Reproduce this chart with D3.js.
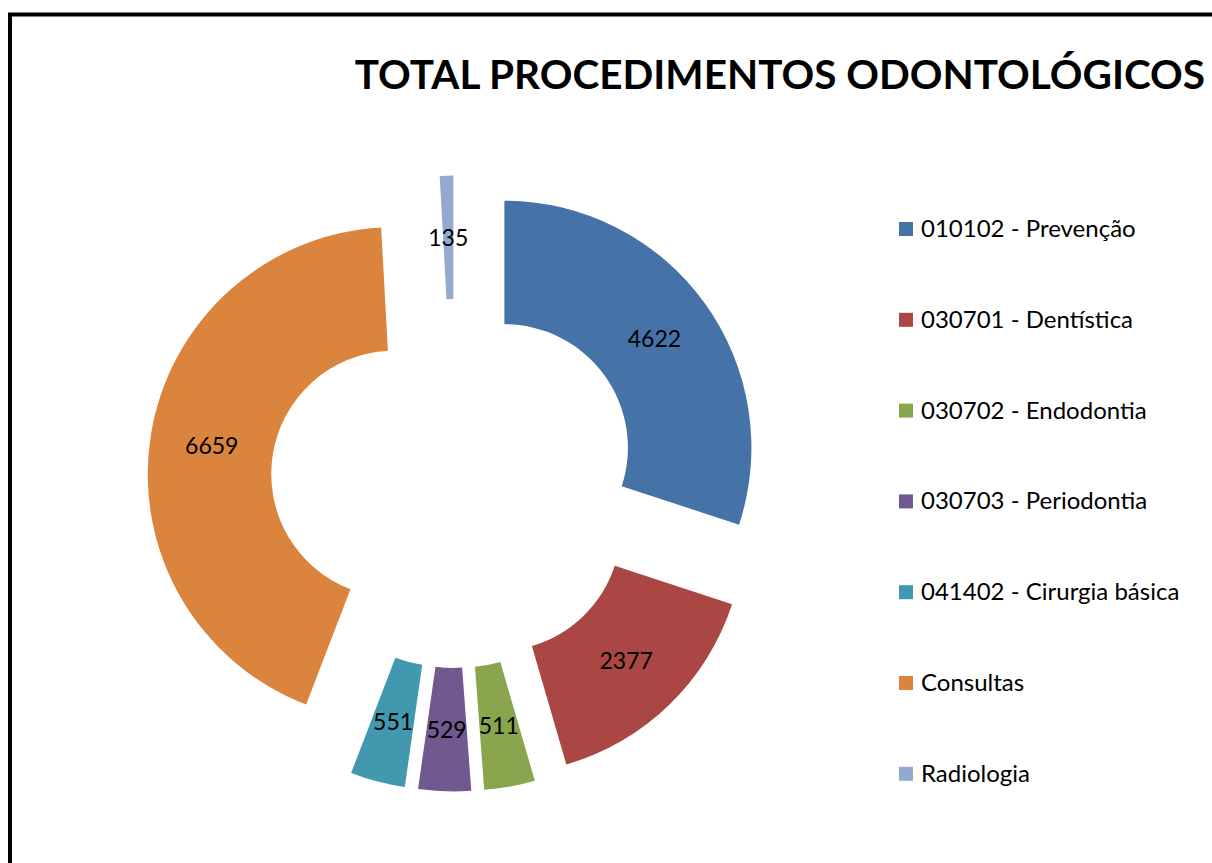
<!DOCTYPE html>
<html>
<head>
    <meta charset="utf-8">
    <title>Total Procedimentos Odontológicos</title>
    <script src="https://cdnjs.cloudflare.com/ajax/libs/d3/7.8.5/d3.min.js"></script>
    <style>
        body { margin: 0; background: #fff; }
        svg { display: block; font-family: Lato, "Open Sans", sans-serif; }
    </style>
</head>
<body>
    <svg id="chart"></svg>
    <script>
        // data
        const categories = [
            '010102 - Prevenção',
            '030701 - Dentística',
            '030702 - Endodontia',
            '030703 - Periodontia',
            '041402 - Cirurgia básica',
            'Consultas',
            'Radiologia'
        ];
        const values = [4622, 2377, 511, 529, 551, 6659, 135];
        const colors = ['#4572A7', '#AA4643', '#89A54E', '#71588F', '#4198AF', '#DB843D', '#93A9CF'];
        const title = 'TOTAL PROCEDIMENTOS ODONTOLÓGICOS';

        const width = 1212, height = 863;
        const cx = 455, cy = 483.5;
        const outerR = 247, innerR = 123.5, explode = 61;

        const svg = d3.select('#chart')
            .attr('width', width)
            .attr('height', height);

        // chart frame (runs off the right and bottom edges)
        svg.append('rect')
            .attr('x', 10).attr('y', 14.5)
            .attr('width', width + 20).attr('height', height + 20)
            .attr('fill', 'none')
            .attr('stroke', '#000')
            .attr('stroke-width', 4);

        svg.append('text')
            .attr('x', 1205).attr('y', 89)
            .attr('text-anchor', 'end')
            .attr('font-size', 40.5)
            .attr('font-weight', 'bold')
            .attr('fill', '#000')
            .text(title);

        const data = categories.map((c, i) => ({ name: c, value: values[i], color: colors[i] }));

        const pie = d3.pie().sort(null).value(d => d.value);
        const arc = d3.arc().innerRadius(innerR).outerRadius(outerR);

        const slices = svg.append('g')
            .attr('transform', `translate(${cx},${cy})`)
            .selectAll('g')
            .data(pie(data))
            .join('g')
            .attr('transform', d => {
                const a = (d.startAngle + d.endAngle) / 2;
                return `translate(${Math.sin(a) * explode},${-Math.cos(a) * explode})`;
            });

        slices.append('path')
            .attr('d', arc)
            .attr('fill', d => d.data.color);

        slices.append('text')
            .attr('transform', d => `translate(${arc.centroid(d)})`)
            .attr('text-anchor', 'middle')
            .attr('dy', '0.36em')
            .attr('font-size', 23)
            .attr('fill', '#000')
            .text(d => d.data.value);

        // legend
        const legend = svg.append('g')
            .selectAll('g')
            .data(data)
            .join('g')
            .attr('transform', (d, i) => `translate(899,${237 + i * 90.8})`);

        legend.append('rect')
            .attr('x', 0).attr('y', -15)
            .attr('width', 14).attr('height', 14)
            .attr('fill', d => d.color);

        legend.append('text')
            .attr('x', 22).attr('y', 0)
            .attr('font-size', 24)
            .attr('fill', '#000')
            .text(d => d.name);
    </script>
</body>
</html>
